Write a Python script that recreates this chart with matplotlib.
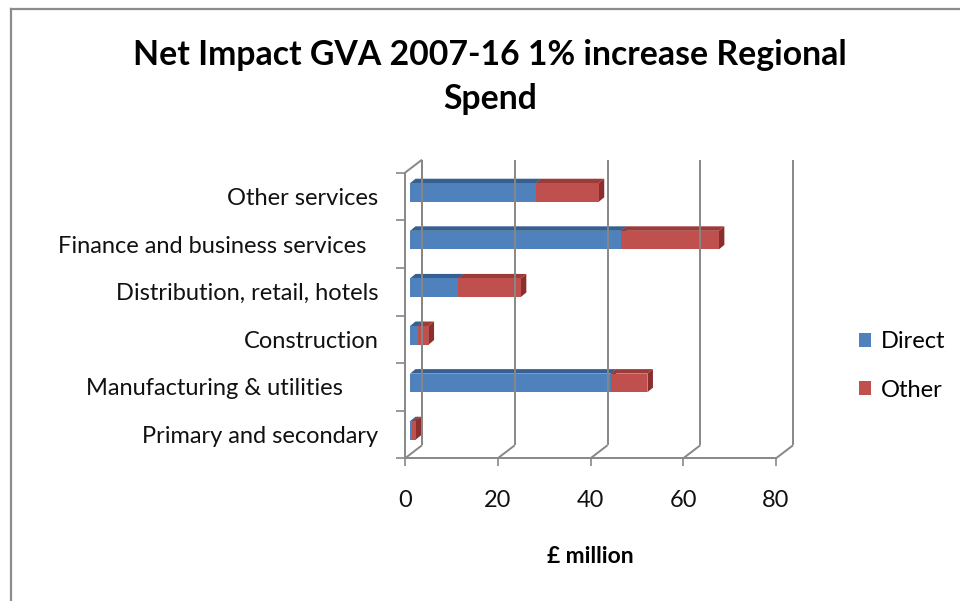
import numpy as np
import matplotlib.pyplot as plt
from matplotlib.patches import Polygon, Patch
from matplotlib.lines import Line2D

plt.rcParams['font.family'] = ['Lato', 'DejaVu Sans']

# sectors, bottom to top as drawn
categories = ['Primary and secondary', 'Manufacturing & utilities      ', 'Construction',
              'Distribution, retail, hotels', 'Finance and business services  ', 'Other services']
direct = [0.5, 43.3, 1.8, 10.4, 45.5, 27.1]
other = [0.7, 7.9, 2.2, 13.5, 21.1, 13.6]
xticks = [0, 20, 40, 60, 80]

blue, blue_top, blue_side = '#4F81BD', '#36608F', '#2E5480'
red, red_top, red_side = '#C0504D', '#9C3C3A', '#8A2F2D'
grid_c = '#878787'
fs = 17

fig = plt.figure(figsize=(9.6, 6.01), dpi=100)
W, H = 960, 601
# front plane of the 3d box, in pixels
x0p, x1p, ytop, ybot = 405, 776, 172.7, 458.3
ax = fig.add_axes([x0p / W, (H - ybot) / H, (x1p - x0p) / W, (ybot - ytop) / H])
ax.set_xlim(0, 80)
ax.set_ylim(-0.5, 5.5)
for s in ax.spines.values():
    s.set_visible(False)

# pixel -> data units
ux = 80 / (x1p - x0p)
uy = 6 / (ybot - ytop)
wall = (17 * ux, 13 * uy)      # depth of the back wall
bf = (5 * ux, 4 * uy)          # bar front face offset
bb = (10.5 * ux, 8.5 * uy)     # bar back face offset

lkw = dict(color=grid_c, lw=1.4, clip_on=False, solid_capstyle='butt')

# back wall gridlines and floor lines
for t in xticks:
    ax.plot([t + wall[0]] * 2, [-0.5 + wall[1], 5.5 + wall[1]], **lkw)
    ax.plot([t, t + wall[0]], [-0.5, -0.5 + wall[1]], **lkw)
# left side wall
ax.plot([wall[0], wall[0]], [-0.5 + wall[1], 5.5 + wall[1]], **lkw)
ax.plot([0, wall[0]], [5.5, 5.5 + wall[1]], **lkw)
ax.plot([0, 0], [-0.5, 5.5], **lkw)
ax.plot([0, 80], [-0.5, -0.5], **lkw)

h = 0.39
y = np.arange(len(categories))


def box(left, width, yc, front, top, side):
    x_a, x_b = left + bf[0], left + width + bf[0]
    yb, yt = yc - h / 2 + bf[1], yc + h / 2 + bf[1]
    dx, dy = bb[0] - bf[0], bb[1] - bf[1]
    ax.add_patch(Polygon([(x_a, yt), (x_b, yt), (x_b + dx, yt + dy), (x_a + dx, yt + dy)],
                         closed=True, fc=top, ec='none', clip_on=False))
    ax.add_patch(Polygon([(x_b, yb), (x_b, yt), (x_b + dx, yt + dy), (x_b + dx, yb + dy)],
                         closed=True, fc=side, ec='none', clip_on=False))
    ax.add_patch(Polygon([(x_a, yb), (x_b, yb), (x_b, yt), (x_a, yt)],
                         closed=True, fc=front, ec='none', clip_on=False))


for i in y:
    box(0, direct[i], i, blue, blue_top, blue_side)
    box(direct[i], other[i], i, red, red_top, red_side)

# axes ticks and labels
ax.set_yticks(y)
ax.set_yticklabels(categories, fontsize=fs, color='#111111')
ax.set_yticks(np.arange(-0.5, 6, 1), minor=True)
ax.tick_params(axis='y', which='major', length=0, pad=19)
ax.tick_params(axis='y', which='minor', length=6.5, width=1.2, color=grid_c)
ax.set_xticks(xticks)
ax.set_xticklabels([str(t) for t in xticks], fontsize=fs, color='#111111')
ax.tick_params(axis='x', length=6, width=1.2, color=grid_c, pad=17)
ax.set_xlabel('£ million', fontsize=fs - 0.5, fontweight='bold', labelpad=25)

fig.text(490 / W, 1 - 77 / H, 'Net Impact GVA 2007-16 1% increase Regional\nSpend',
         ha='center', va='center', fontsize=24.3, fontweight='bold', linespacing=1.45)

fig.legend(handles=[Patch(fc=blue, ec='none', label='Direct'),
                    Patch(fc=red, ec='none', label='Other')],
           loc='center left', bbox_to_anchor=(838 / W, 1 - 366 / H), frameon=False,
           fontsize=fs, handlelength=0.5, handleheight=0.5, handletextpad=0.4,
           labelspacing=1.15)

# chart border
fig.add_artist(Line2D([11 / W, 11 / W], [0, 1 - 9 / H], color='#8c8c8c', lw=1.6))
fig.add_artist(Line2D([11 / W, 1], [1 - 9 / H, 1 - 9 / H], color='#8c8c8c', lw=1.6))

fig.savefig('out.png', dpi=100)
